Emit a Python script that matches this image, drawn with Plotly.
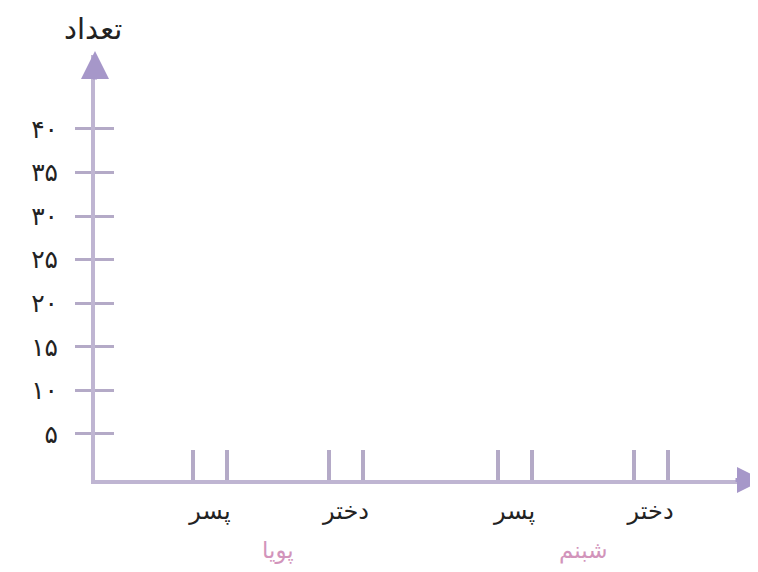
import plotly.graph_objects as go

# ---- data ----
groups = ["پویا", "شبنم"]
categories = ["پسر", "دختر"]
y_tick_values = [5, 10, 15, 20, 25, 30, 35, 40]
y_tick_labels = ["۵", "۱۰", "۱۵", "۲۰", "۲۵", "۳۰", "۳۵", "۴۰"]
y_title = "تعداد"

# ---- style ----
FONT = "DejaVu Sans"
AXIS_COLOR = "#bfb5d2"
TICK_COLOR = "#b4aac7"
ARROW_COLOR = "#a697c9"
TEXT_COLOR = "#222222"
GROUP_COLOR = "#d294bb"
GROUP_STEP = 2.24
HALF_BAR = 0.125

positions = [g * GROUP_STEP + s for g in range(len(groups)) for s in range(len(categories))]
labels = [c for _ in groups for c in categories]
edges = [p + d for p in positions for d in (-HALF_BAR, HALF_BAR)]
group_centers = [sum(positions[g * len(categories):(g + 1) * len(categories)]) / len(categories)
                 for g in range(len(groups))]

y_range = [-0.28, 48.49]
x_range = [-0.846, 4.03]

fig = go.Figure()
fig.add_trace(go.Scatter(x=positions, y=[None] * len(positions), mode="markers",
                         showlegend=False, hoverinfo="skip"))
fig.add_trace(go.Scatter(x=positions, y=[None] * len(positions), mode="markers",
                         yaxis="y2", showlegend=False, hoverinfo="skip"))

fig.update_layout(
    width=750, height=564,
    margin=dict(l=87, r=0, t=47, b=92),
    paper_bgcolor="white", plot_bgcolor="white",
    font=dict(family=FONT, color=TEXT_COLOR),
    xaxis=dict(
        range=x_range, showgrid=False, zeroline=False,
        showline=True, linecolor=AXIS_COLOR, linewidth=4,
        tickmode="array", tickvals=positions, ticktext=labels,
        ticks="", tickfont=dict(size=24, color=TEXT_COLOR),
        ticklabelstandoff=6,
        minor=dict(tickmode="array", tickvals=edges, ticks="inside",
                   ticklen=30, tickwidth=4, tickcolor=TICK_COLOR, showgrid=False),
    ),
    yaxis=dict(
        range=y_range, showgrid=False, zeroline=False,
        showline=True, linecolor=AXIS_COLOR, linewidth=4,
        tickmode="array", tickvals=y_tick_values, ticktext=y_tick_labels,
        ticks="outside", ticklen=16, tickwidth=3, tickcolor=TICK_COLOR,
        tickfont=dict(size=25, color=TEXT_COLOR), ticklabelstandoff=12,
    ),
    yaxis2=dict(
        range=y_range, overlaying="y", anchor="x", side="left",
        showgrid=False, zeroline=False, showline=False, showticklabels=False,
        tickmode="array", tickvals=y_tick_values,
        ticks="inside", ticklen=19, tickwidth=3, tickcolor=TICK_COLOR,
    ),
)

annotations = [
    dict(x=0, y=1, xref="paper", yref="paper", text="", showarrow=True,
         ax=0, ay=30, yshift=4, arrowhead=2, arrowsize=1.4, arrowwidth=4,
         arrowcolor=ARROW_COLOR),
    dict(x=1, y=0, xref="paper", yref="paper", text="", showarrow=True,
         ax=-30, ay=0, xshift=6, arrowhead=2, arrowsize=1.3, arrowwidth=4,
         arrowcolor=ARROW_COLOR),
    dict(x=0, y=1, xref="paper", yref="paper", text=y_title, showarrow=False,
         xanchor="center", yanchor="middle", yshift=26, xshift=-2,
         font=dict(size=29, color=TEXT_COLOR, family=FONT)),
]
for gname, gc in zip(groups, group_centers):
    annotations.append(dict(x=gc, y=0, xref="x", yref="paper", text=gname, showarrow=False,
                            xanchor="center", yanchor="middle", yshift=-70,
                            font=dict(size=23, color=GROUP_COLOR, family=FONT)))
fig.update_layout(annotations=annotations)

fig.write_html("out.html")
